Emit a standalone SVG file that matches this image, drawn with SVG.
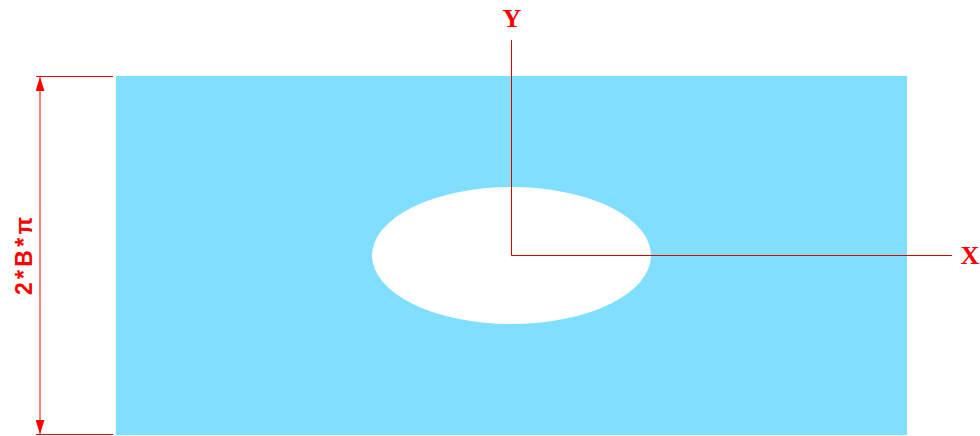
<svg xmlns="http://www.w3.org/2000/svg" width="980" height="436" viewBox="0 0 980 436">
<style>
.dim{stroke:#ff0000;stroke-width:1;fill:none}
.axis{stroke:#e00000;stroke-width:1;fill:none}
.lbl{font-family:"Liberation Serif",serif;font-weight:bold;font-size:26px;fill:#ff0000;text-anchor:middle}
.dimtxt{font-family:"Liberation Sans",sans-serif;font-weight:bold;font-size:23px;fill:#ff0000;text-anchor:middle}
</style>
<defs>
<marker id="ah" viewBox="0 0 14 9" refX="14" refY="4.5" markerWidth="14" markerHeight="9" markerUnits="userSpaceOnUse" orient="auto">
<path d="M0,0 L14,4.5 L0,9 Z" fill="#ff0000"/>
</marker>
</defs>
<g id="plate">
<rect x="116" y="76" width="791" height="359" fill="#80dfff"/>
<ellipse cx="511.5" cy="255.5" rx="139.5" ry="68.5" fill="#ffffff"/>
</g>
<g id="connectors">
<line class="axis" x1="511.5" y1="40" x2="511.5" y2="255.5"/>
<line class="axis" x1="511.5" y1="255.5" x2="952" y2="255.5"/>
<line class="dim" x1="36" y1="76.5" x2="113" y2="76.5"/>
<line class="dim" x1="36" y1="434.5" x2="113" y2="434.5"/>
<line class="dim" x1="40" y1="256" x2="40" y2="77" marker-end="url(#ah)"/>
<line class="dim" x1="40" y1="256" x2="40" y2="434" marker-end="url(#ah)"/>
</g>
<g id="labels">
<text class="lbl" x="512" y="27">Y</text>
<text class="lbl" x="970" y="264">X</text>
<text class="dimtxt" transform="translate(32,256) rotate(-90)" x="0" y="0" textLength="78" lengthAdjust="spacing">2*B*π</text>
</g>
</svg>
